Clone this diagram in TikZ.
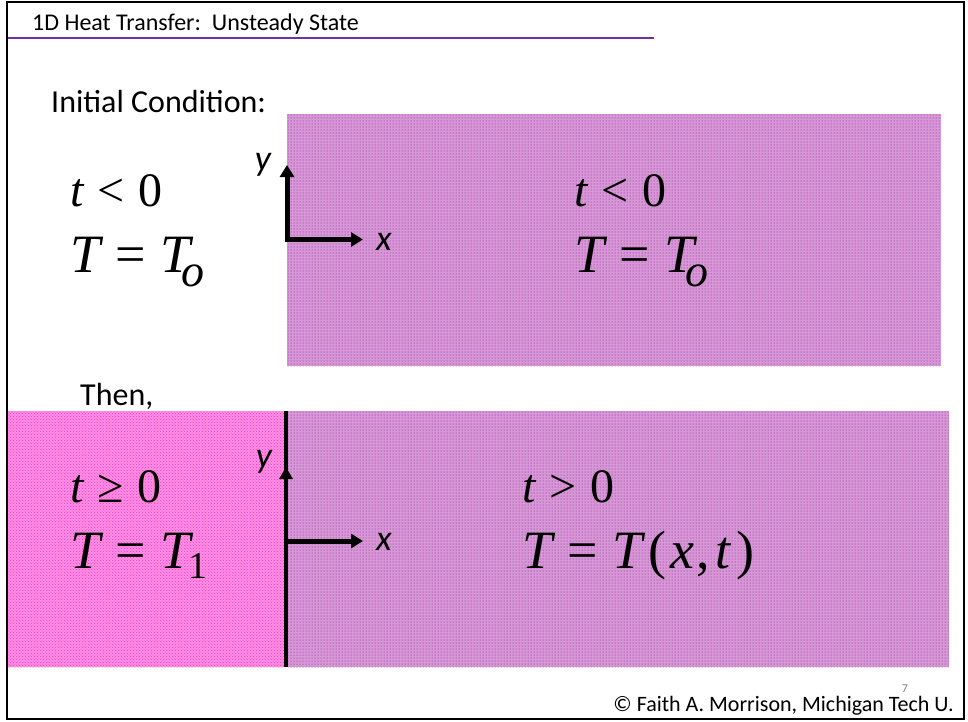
\documentclass[tikz,border=0pt]{standalone}
\usepackage{fontspec}
\setmainfont{Carlito}
\newfontfamily\tms{Liberation Serif}
\usetikzlibrary{patterns,arrows.meta}
\definecolor{purp}{HTML}{990099}
\definecolor{pinkc}{HTML}{FF33CC}
\definecolor{lineviolet}{HTML}{7030A0}
\newcommand{\mi}[1]{{\itshape #1}}
\newcommand{\gapa}{\hspace{14pt}}
\newcommand{\gapb}{\hspace{15pt}}
\newcommand{\subo}{\kern-9pt\raisebox{-14pt}{\fontsize{46}{46}\selectfont\itshape o}}
\newcommand{\subone}{\kern-2pt\raisebox{-10pt}{\fontsize{38}{38}\selectfont 1}}
\tikzset{
  mathone/.style={anchor=base west, inner sep=0pt, font=\tms\fontsize{48}{48}\selectfont},
  mathtwo/.style={anchor=base west, inner sep=0pt, font=\tms\fontsize{54}{54}\selectfont},
  axlbl/.style={anchor=base, inner sep=0pt, font=\fontsize{36}{36}\selectfont\itshape},
  axarrow/.style={line width=5pt, -{Triangle[length=12pt,width=14pt]}},
  purpbox/.style={fill=purp!40!white, postaction={pattern=dots, pattern color=purp}},
  pinkbox/.style={fill=pinkc!55!white, postaction={pattern=crosshatch dots, pattern color=pinkc}},
  bodytxt/.style={anchor=base west, inner sep=0pt, font=\fontsize{32}{32}\selectfont}
}
\begin{document}
\begin{tikzpicture}[x=1pt,y=-1pt]
\useasboundingbox (0,0) rectangle (968,721);
\fill[white] (0,0) rectangle (968,721);
% frame
\draw[line width=2.5pt] (7,2) rectangle (964,719);
\draw[lineviolet, line width=2.5pt] (8,38) -- (654,38);
\node[anchor=base west, inner sep=0pt, font=\fontsize{24}{24}\selectfont] (title) at (32,30.5) {1D Heat Transfer:\ \ Unsteady State};
% boxes
\path[purpbox] (287,114) rectangle (941,366);
\path[purpbox] (288,411) rectangle (949,667);
\path[pinkbox] (8,411) rectangle (285,667);
% texts
\node[bodytxt] (ic) at (51,112) {Initial Condition:};
\node[bodytxt] (then) at (80,405) {Then,};
% top-left math
\node[mathone] (tl1) at (70,206) {\mi{t}\gapa<\gapa0};
\node[mathtwo] (tl2) at (70,272) {\mi{T}\gapb=\gapb\mi{T}\subo};
% top-right math
\node[mathone] (tr1) at (574,206) {\mi{t}\gapa<\gapa0};
\node[mathtwo] (tr2) at (574,272) {\mi{T}\gapb=\gapb\mi{T}\subo};
% bottom-left
\node[mathone] (bl1) at (70,502) {\mi{t}\gapa≥\gapa0};
\node[mathtwo] (bl2) at (70,568) {\mi{T}\gapb=\gapb\mi{T}\subone};
% bottom-right
\node[mathone] (br1) at (522,502) {\mi{t}\gapa>\gapa0};
\node[mathtwo] (br2) at (522,568) {\mi{T}\gapb=\gapb\mi{T}\kern6pt(\kern4pt\mi{x}\kern2pt,\kern5pt\mi{t}\kern6pt)};
% top axes
\coordinate (o1) at (287,239.5);
\coordinate (y1) at (287,165);
\coordinate (x1) at (363,239.5);
\draw[axarrow] ([yshift=-2.5pt]o1) -- (y1);
\draw[axarrow] (o1) -- (x1);
\node[axlbl] (ylab1) at (263,170) {y};
\node[axlbl] (xlab1) at (384,250) {x};
% bottom axes
\coordinate (wt) at (286,411);
\coordinate (wb) at (286,667);
\coordinate (o2) at (286,541);
\coordinate (y2) at (286,467);
\coordinate (x2) at (363,541);
\draw[line width=4pt] (wt) -- (wb);
\draw[line width=4pt, -{Triangle[length=12pt,width=13pt]}] (o2) -- (y2);
\draw[axarrow] (o2) -- (x2);
\node[axlbl] (ylab2) at (264,467) {y};
\node[axlbl] (xlab2) at (384,550) {x};
% footer
\node[anchor=base east, inner sep=0pt, font=\fontsize{22}{22}\selectfont] (copy) at (954,711) {© Faith A. Morrison, Michigan Tech U.};
\node[anchor=base, inner sep=0pt, text=gray, font=\fontsize{12}{12}\selectfont] (pg) at (905,692) {7};
\end{tikzpicture}
\end{document}
